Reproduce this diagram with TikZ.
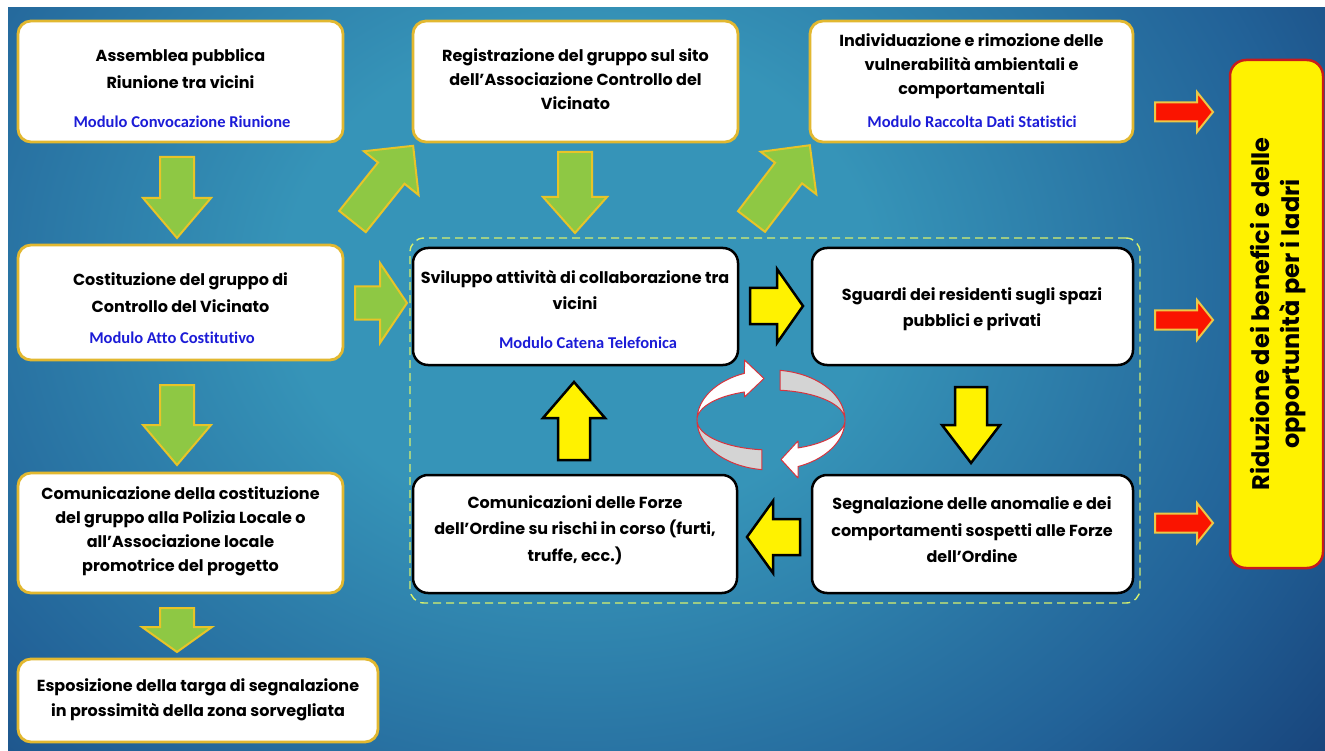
\documentclass[tikz,border=0pt]{standalone}
\usepackage{fontspec}
\setmainfont{Poppins}
\newfontfamily\blufont{Carlito}[Ligatures=NoCommon]
\definecolor{bgin}{RGB}{54,148,184}
\definecolor{bgmid}{RGB}{34,98,152}
\definecolor{bgout}{RGB}{18,50,106}
\definecolor{boxgold}{RGB}{226,184,48}
\definecolor{argreen}{RGB}{142,200,68}
\definecolor{argold}{RGB}{232,196,40}
\definecolor{modblue}{RGB}{28,28,215}
\definecolor{dashlime}{RGB}{214,240,110}
\definecolor{ribred}{RGB}{214,52,62}
\definecolor{ribgray}{RGB}{212,212,212}
\definecolor{bigred}{RGB}{200,28,28}
\definecolor{arred}{RGB}{250,20,0}
\definecolor{aryel}{RGB}{236,200,70}
\pgfdeclareradialshading{bgshade}{\pgfpoint{0bp}{0bp}}{color(0bp)=(bgin); color(9bp)=(bgin); color(22bp)=(bgmid); color(33bp)=(bgout); color(50bp)=(bgout)}
\newcommand\mkbox[6]{\node[#1, minimum width={(#5-#3)*1pt}, minimum height={(#6-#4)*1pt}] (#2) at ({(#3+#5)/2},{(#4+#6)/2}) {};}
\newcommand\blockarrow[8]{\begin{scope}[shift={(#2,#3)}, rotate=#4]
  \draw[#1] (0,-#7) -- ({#5-#6},-#7) -- ({#5-#6},-#8) -- (#5,0) -- ({#5-#6},#8) -- ({#5-#6},#7) -- (0,#7) -- cycle;
\end{scope}}
\begin{document}
\begin{tikzpicture}[x=1pt,y=-1pt,
  goldbox/.style={draw=boxgold, line width=2.8pt, fill=white, rounded corners=13pt, inner sep=0pt},
  blackbox/.style={draw=black, line width=2.5pt, fill=white, rounded corners=15pt, inner sep=0pt},
  dashbox/.style={draw=dashlime, line width=1.4pt, dash pattern=on 8pt off 5pt, rounded corners=14pt, inner sep=0pt},
  bigbox/.style={draw=bigred, line width=2.5pt, fill=yellow, rounded corners=16pt, inner sep=0pt},
  garrow/.style={fill=argreen, draw=argold, line width=2pt, line join=miter},
  yarrow/.style={fill=yellow, draw=black, line width=2.5pt, line join=miter},
  rarrow/.style={fill=arred, draw=aryel, line width=2pt, line join=miter},
  ribbon/.style={draw=ribred, line width=1pt, line join=round},
  txt/.style={font=\fontsize{16}{25}\selectfont\bfseries, align=center, inner sep=0pt, text=black},
  blu/.style={font=\blufont\fontsize{16.5}{20}\selectfont\bfseries, text=modblue, inner sep=0pt},
  bigtxt/.style={font=\fontsize{24}{30}\selectfont\bfseries, align=center, inner sep=0pt, text=black}]
\useasboundingbox (0,0) rectangle (1325,751);
\fill[white] (0,0) rectangle (1325,751);
\begin{scope}
  \clip (8,8) rectangle (1325,751);
  \shade[shading=bgshade] (-240,-400) rectangle (1400,960);
\end{scope}
% group
\mkbox{dashbox}{grp}{410}{238}{1140}{603}
% boxes
\mkbox{goldbox}{b1}{18}{21}{343}{142}
\mkbox{goldbox}{b2}{18}{245}{343}{360}
\mkbox{goldbox}{b3}{18}{473}{343}{593}
\mkbox{goldbox}{b4}{18}{659}{378}{742}
\mkbox{goldbox}{b5}{413}{21}{738}{142}
\mkbox{goldbox}{b6}{810}{21}{1133}{142}
\mkbox{blackbox}{b7}{413}{248}{738}{365}
\mkbox{blackbox}{b8}{812}{248}{1133}{365}
\mkbox{blackbox}{b9}{413}{475}{737}{593}
\mkbox{blackbox}{b10}{812}{475}{1133}{593}
\mkbox{bigbox}{br}{1230}{60}{1323}{568}
% green arrows
\blockarrow{garrow}{177}{157}{-90}{81}{40}{17}{34}
\blockarrow{garrow}{177}{385}{-90}{80}{40}{17}{34}
\blockarrow{garrow}{177}{608}{-90}{44}{25}{17}{35}
\blockarrow{garrow}{575}{152}{-90}{81}{36}{17}{32}
\blockarrow{garrow}{352.5}{221.5}{51.3}{97}{35}{17}{35}
\blockarrow{garrow}{751.5}{221.5}{52.6}{96}{35}{17}{35}
\blockarrow{garrow}{355}{303}{0}{52}{27}{16.5}{40}
% yellow arrows
\blockarrow{yarrow}{750}{306}{0}{53}{26}{18}{37}
\blockarrow{yarrow}{971}{387}{-90}{76}{38}{16}{29}
\blockarrow{yarrow}{800}{537}{180}{53}{26}{18}{36}
\blockarrow{yarrow}{574}{460}{90}{78}{36}{16}{31}
% red arrows
\blockarrow{rarrow}{1155}{112}{0}{58}{16}{9.5}{20}
\blockarrow{rarrow}{1155}{320}{0}{58}{16}{9.5}{20}
\blockarrow{rarrow}{1155}{523}{0}{58}{16}{9.5}{20}
% cycle ribbons
\filldraw[ribbon, fill=ribgray] plot[domain=97:180, samples=30, variable=\t] ({771+74*cos(\t)},{420+50*sin(\t)}) -- plot[domain=180:97, samples=30, variable=\t] ({771+74*cos(\t)},{420+30*sin(\t)}) -- cycle;
\filldraw[ribbon, fill=white] plot[domain=180:249, samples=30, variable=\t] ({771+74*cos(\t)},{420+50*sin(\t)}) -- (744.5,360) -- (764,378.5) -- (744.5,397) -- plot[domain=249:180, samples=30, variable=\t] ({771+74*cos(\t)},{420+30*sin(\t)}) -- cycle;
\filldraw[ribbon, fill=ribgray] plot[domain=277:360, samples=30, variable=\t] ({771+74*cos(\t)},{420+50*sin(\t)}) -- plot[domain=360:277, samples=30, variable=\t] ({771+74*cos(\t)},{420+30*sin(\t)}) -- cycle;
\filldraw[ribbon, fill=white] plot[domain=0:68.6, samples=30, variable=\t] ({771+74*cos(\t)},{420+50*sin(\t)}) -- (798,478) -- (781,459.5) -- (798,441) -- plot[domain=68.6:0, samples=30, variable=\t] ({771+74*cos(\t)},{420+30*sin(\t)}) -- cycle;
% texts
\node[txt, font=\fontsize{16}{27}\selectfont\bfseries] (t1) at (180.5,68.5) {Assemblea pubblica\\Riunione tra vicini};
\node[blu] (m1) at (182,122) {Modulo Convocazione Riunione};
\node[txt, font=\fontsize{16}{27}\selectfont\bfseries] (t2) at (180.5,293) {Costituzione del gruppo di\\Controllo del Vicinato};
\node[blu] (m2) at (172,338) {Modulo Atto Costitutivo};
\node[txt, font=\fontsize{16}{24}\selectfont\bfseries] (t3) at (180.5,531) {Comunicazione della costituzione\\del gruppo alla Polizia Locale o\\all’Associazione locale\\promotrice del progetto};
\node[txt] (t4) at (198,699.5) {Esposizione della targa di segnalazione\\in prossimità della zona sorvegliata};
\node[txt, font=\fontsize{16}{24}\selectfont\bfseries] (t5) at (575.5,79) {Registrazione del gruppo sul sito\\dell’Associazione Controllo del\\Vicinato};
\node[txt, font=\fontsize{16}{24}\selectfont\bfseries] (t6) at (971.5,66) {Individuazione e rimozione delle\\vulnerabilità ambientali e\\comportamentali};
\node[blu] (m6) at (972,122) {Modulo Raccolta Dati Statistici};
\node[txt, font=\fontsize{16}{26}\selectfont\bfseries] (t7) at (575,290) {Sviluppo attività di collaborazione tra\\vicini};
\node[blu] (m7) at (588,343) {Modulo Catena Telefonica};
\node[txt, font=\fontsize{16}{26}\selectfont\bfseries] (t8) at (972,309) {Sguardi dei residenti sugli spazi\\pubblici e privati};
\node[txt, font=\fontsize{16}{26.5}\selectfont\bfseries] (t9) at (575,530) {Comunicazioni delle Forze\\dell’Ordine su rischi in corso (furti,\\truffe, ecc.)};
\node[txt, font=\fontsize{16}{26.5}\selectfont\bfseries] (t10) at (972,530) {Segnalazione delle anomalie e dei\\comportamenti sospetti alle Forze\\dell’Ordine};
\node[bigtxt, rotate=90] (tr) at (1278,314) {Riduzione dei benefici e delle\\opportunità per i ladri};
\end{tikzpicture}
\end{document}
